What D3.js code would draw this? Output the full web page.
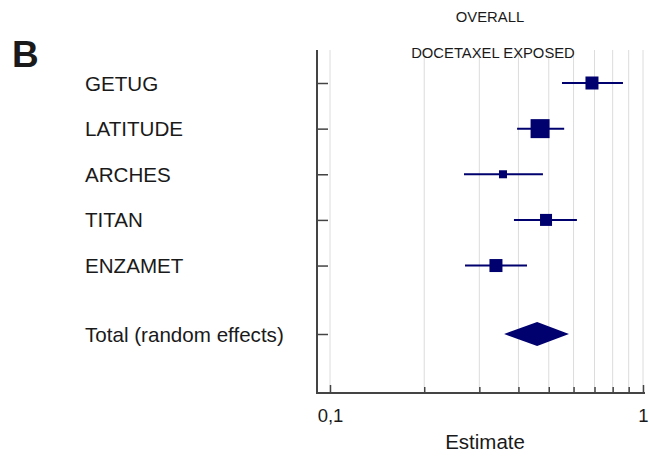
<!DOCTYPE html>
<html>
<head>
<meta charset="utf-8">
<script src="https://cdn.jsdelivr.net/npm/d3@7"></script>
<style>
  body { margin: 0; background: #fff; }
  text { font-family: "Liberation Sans", Arial, sans-serif; fill: #1a1a1a; }
</style>
</head>
<body>
<div id="graph"></div>
<script>
"use strict"

// studies
var studies = ["GETUG", "LATITUDE", "ARCHES", "TITAN", "ENZAMET"]
var estimate = [0.687, 0.469, 0.357, 0.490, 0.339]
var lower = [0.551, 0.396, 0.268, 0.387, 0.270]
var upper = [0.863, 0.560, 0.479, 0.615, 0.426]
var weight = [13, 19, 8, 12, 13]   // marker size in px (study weight)

var total = {label: "Total (random effects)", est: 0.459, lo: 0.360, hi: 0.580}

var gridValues = [0.1, 0.2, 0.3, 0.4, 0.5, 0.6, 0.7, 0.8, 0.9, 1]
var tickLabels = {0.1: "0,1", 1: "1"}

var width = 649, height = 457
var navy = "#00006e"

main()

function main() {
    let svg = d3.select("#graph").append("svg")
        .attr("width", width).attr("height", height)

    let x = d3.scaleLog().domain([0.1, 1]).range([330, 643])
    let y = d3.scaleLinear().domain([0, 5.5]).range([83, 334])

    let axisLeftX = 317, axisBottomY = 393, axisTopY = 50

    // grid
    svg.append("g").selectAll("line")
        .data(gridValues)
        .enter().append("line")
        .attr("x1", d => x(d)).attr("x2", d => x(d))
        .attr("y1", axisTopY).attr("y2", axisBottomY)
        .attr("stroke", "#dcdcdc").attr("stroke-width", 1)

    // x axis
    let xAxis = d3.axisBottom(x)
        .tickValues(gridValues)
        .tickSizeInner(-6)
        .tickSizeOuter(0)
        .tickPadding(16)
        .tickFormat(d => tickLabels[d] || "")

    let gx = svg.append("g")
        .attr("transform", "translate(0," + axisBottomY + ")")
        .call(xAxis)
    gx.select(".domain").remove()
    gx.selectAll(".tick line")
        .attr("stroke", "#444").attr("stroke-width", 1.5)
        .attr("y2", d => tickLabels[d] ? -8 : -6)
    gx.selectAll(".tick text")
        .attr("font-size", 18.5)
        .attr("font-family", "Liberation Sans, Arial, sans-serif")
        .attr("fill", "#1a1a1a")

    svg.append("line")
        .attr("x1", axisLeftX).attr("x2", 645)
        .attr("y1", axisBottomY).attr("y2", axisBottomY)
        .attr("stroke", "#444").attr("stroke-width", 2)

    // y axis
    let rows = studies.map((s, i) => i).concat([5.5])
    let yAxis = d3.axisRight(y)
        .tickValues(rows)
        .tickSize(11)
        .tickFormat("")
    let gy = svg.append("g")
        .attr("transform", "translate(" + axisLeftX + ",0)")
        .call(yAxis)
    gy.select(".domain").remove()
    gy.selectAll(".tick line").attr("stroke", "#444").attr("stroke-width", 1.5)

    svg.append("line")
        .attr("x1", axisLeftX).attr("x2", axisLeftX)
        .attr("y1", axisTopY).attr("y2", axisBottomY + 1)
        .attr("stroke", "#444").attr("stroke-width", 2)

    // row labels
    let labels = studies.concat([total.label])
    svg.append("g").selectAll("text")
        .data(labels)
        .enter().append("text")
        .attr("x", 85)
        .attr("y", (d, i) => y(rows[i]) + 7.5)
        .attr("font-size", 20.6)
        .text(d => d)

    // confidence intervals
    let study = svg.append("g").selectAll(".study")
        .data(studies)
        .enter().append("g")
        .attr("class", "study")

    study.append("line")
        .attr("x1", (d, i) => x(lower[i]))
        .attr("x2", (d, i) => x(upper[i]))
        .attr("y1", (d, i) => y(i)).attr("y2", (d, i) => y(i))
        .attr("stroke", navy).attr("stroke-width", 2)

    study.append("rect")
        .attr("x", (d, i) => x(estimate[i]) - weight[i] / 2)
        .attr("y", (d, i) => y(i) - weight[i] / 2)
        .attr("width", (d, i) => weight[i])
        .attr("height", (d, i) => weight[i])
        .attr("fill", navy)

    // pooled diamond
    let ty = y(5.5)
    svg.append("path")
        .attr("d", "M" + x(total.lo) + "," + ty +
                   "L" + x(total.est) + "," + (ty - 12) +
                   "L" + x(total.hi) + "," + ty +
                   "L" + x(total.est) + "," + (ty + 12) + "Z")
        .attr("fill", navy)

    // titles
    svg.append("text")
        .attr("x", 12).attr("y", 67)
        .attr("font-size", 37).attr("font-weight", "bold")
        .attr("fill", "#111")
        .text("B")

    svg.append("text")
        .attr("x", 490).attr("y", 22)
        .attr("text-anchor", "middle")
        .attr("font-size", 14.8)
        .text("OVERALL")

    svg.append("text")
        .attr("x", 493).attr("y", 58)
        .attr("text-anchor", "middle")
        .attr("font-size", 14.8)
        .text("DOCETAXEL EXPOSED")

    svg.append("text")
        .attr("x", 485).attr("y", 449)
        .attr("text-anchor", "middle")
        .attr("font-size", 20.5)
        .text("Estimate")
}
</script>
</body>
</html>
